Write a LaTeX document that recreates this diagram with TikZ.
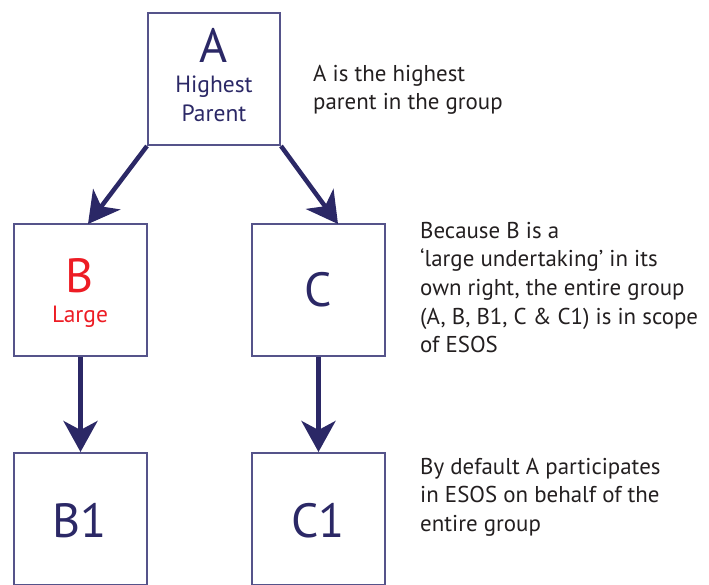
\documentclass[tikz,border=0pt]{standalone}
\usepackage{fontspec}
\setmainfont{PT Sans}
\usetikzlibrary{arrows.meta}
\definecolor{navy}{HTML}{2B2866}
\definecolor{boxline}{HTML}{55538A}
\definecolor{notegray}{HTML}{231F20}
\definecolor{redtxt}{HTML}{ED1C24}
\tikzset{
  box/.style={draw=boxline, line width=2pt, minimum width=132pt, minimum height=132pt, inner sep=0pt},
  arr/.style={draw=navy, line width=4.5pt, -{Stealth[length=31pt,width=34pt,inset=9pt]}},
  big/.style={font=\fontsize{48}{50}\selectfont, text=navy, anchor=base, inner sep=0pt},
  small/.style={font=\fontsize{23.5}{29}\selectfont, text=navy, anchor=base, inner sep=0pt},
  note/.style={font=\fontsize{22.9}{28.6}\selectfont, text=notegray, align=left, anchor=north west, inner sep=0pt}
}
\begin{document}
\begin{tikzpicture}[x=1pt,y=-1pt]
\useasboundingbox (0,0) rectangle (709,584);
\clip (0,0) rectangle (709,584);
% boxes
\node[box] (A) at (214,79) {};
\node[box, minimum width=133pt] (B) at (80.5,290) {};
\node[box, minimum width=133pt] (C) at (318.5,290) {};
\node[box, minimum width=133pt] (B1) at (80.5,519) {};
\node[box, minimum width=133pt] (C1) at (318.5,519) {};
% labels
\node[big] (lA) at (214,62) {A};
\node[small] (lH) at (214,92) {Highest};
\node[small] (lP) at (214,121) {Parent};
\node[big, text=redtxt] (lB) at (80,292) {B};
\node[small, text=redtxt] (lL) at (80,322) {Large};
\node[big] (lC) at (318,306) {C};
\node[big] (lB1) at (80,537) {B1};
\node[big] (lC1) at (318,537) {C1};
% connector end points
\coordinate (tB) at (88,224);
\coordinate (tC) at (338,224);
% arrows
\draw[arr] (A.south west) -- (tB);
\draw[arr] (A.south east) -- (tC);
\draw[arr] (B.south) -- (B1.north);
\draw[arr] (C.south) -- (C1.north);
% notes
\node[note] (n1) at (313,63) {\rule{0pt}{18pt}A is the highest\\parent in the group};
\node[note] (n2) at (420,220) {\rule{0pt}{18pt}Because B is a\\‘large undertaking’ in its\\own right, the entire group\\(A, B, B1, C \& C1) is in scope\\of ESOS};
\node[note] (n3) at (420,456) {\rule{0pt}{18pt}By default A participates\\in ESOS on behalf of the\\entire group};
\end{tikzpicture}
\end{document}
